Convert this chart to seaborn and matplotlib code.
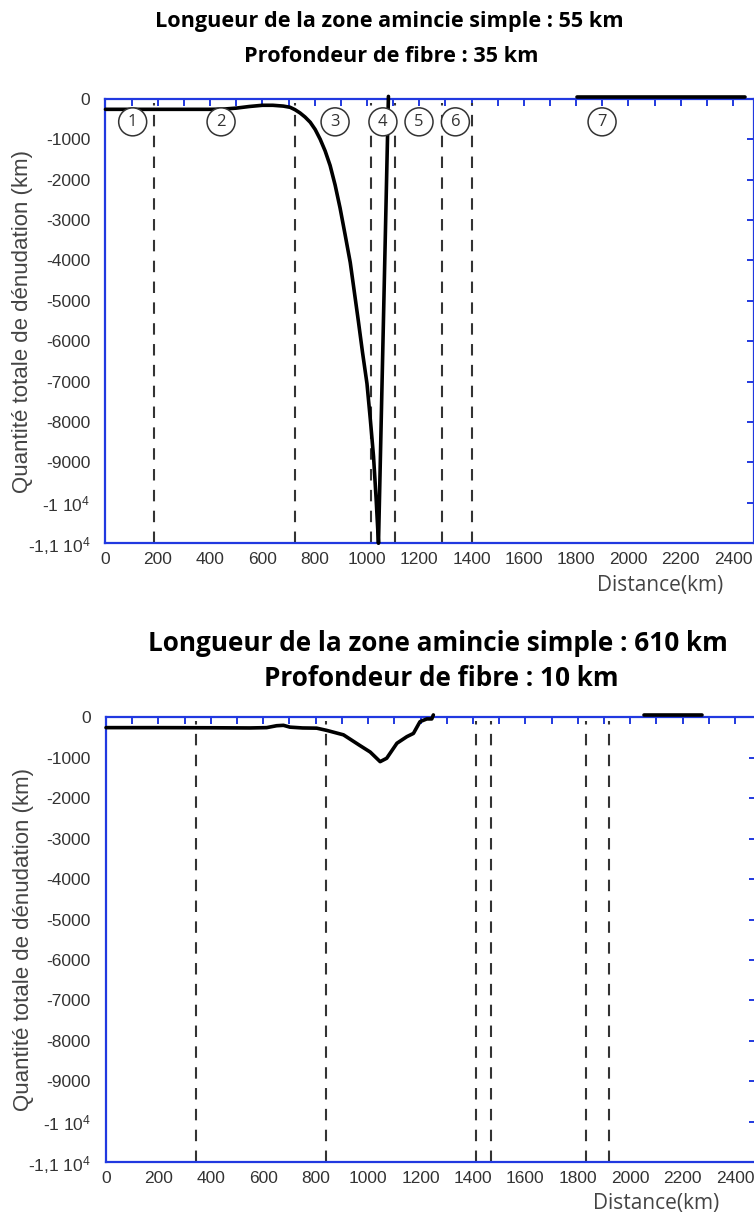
import matplotlib
matplotlib.use("Agg")
import matplotlib.pyplot as plt
import seaborn as sns

# --- profile 1 : 55 km thinning zone, fibre depth 35 km ---
dist_a = [0, 100, 200, 300, 400, 450, 500, 550, 600, 640, 680, 706, 725, 744,
          763, 783, 802, 821, 840, 859, 878, 897, 916, 936, 951, 967, 983,
          1000, 1013, 1025, 1035, 1044, 1082]
denud_a = [-260, -260, -260, -260, -260, -255, -230, -190, -160, -160, -180,
           -210, -270, -350, -450, -580, -760, -1000, -1290, -1650, -2130,
           -2700, -3350, -4050, -4750, -5500, -6280, -7050, -7950, -8850,
           -9900, -11000, 60]
dist_a_far = [1804, 2446]
denud_a_far = [50, 50]
bounds_a = [187, 725, 1015, 1108, 1287, 1400]
zone_x = [104, 442, 878, 1061, 1199, 1338, 1899]
zone_lab = ["1", "2", "3", "4", "5", "6", "7"]

# --- profile 2 : 610 km thinning zone, fibre depth 10 km ---
dist_b = [0, 200, 400, 550, 613, 651, 677, 702, 750, 804, 842, 906, 969, 1008,
          1046, 1071, 1110, 1148, 1173, 1198, 1224, 1243, 1249]
denud_b = [-257, -257, -260, -265, -257, -210, -200, -245, -265, -270, -325,
           -435, -700, -860, -1098, -1014, -643, -480, -400, -110, -42, -42, 57]
dist_b_far = [2051, 2274]
denud_b_far = [50, 50]
bounds_b = [342, 838, 1412, 1470, 1830, 1920]

titles_a = ["Longueur de la zone amincie simple : 55 km", "Profondeur de fibre : 35 km"]
titles_b = ["Longueur de la zone amincie simple : 610 km", "Profondeur de fibre : 10 km"]

yticks = [0, -1000, -2000, -3000, -4000, -5000, -6000, -7000, -8000, -9000, -10000, -11000]
ylabels = ["0", "-1000", "-2000", "-3000", "-4000", "-5000", "-6000", "-7000",
           "-8000", "-9000", "-1 10$^{4}$", "-1,1 10$^{4}$"]
xticks = list(range(0, 2500, 100))
xlabels = [str(v) if v % 200 == 0 else "" for v in xticks]

sns.set_theme(style="white")
plt.rcParams["font.family"] = ["Liberation Sans", "DejaVu Sans"]
plt.rcParams["mathtext.fontset"] = "custom"
plt.rcParams["mathtext.rm"] = "Liberation Sans"
plt.rcParams["mathtext.default"] = "regular"

BLUE = "#2139e0"
INK = "#333333"

fig = plt.figure(figsize=(7.54, 12.14), dpi=100)
ax_a = fig.add_axes([0.1399, 0.5525, 0.8601, 0.3661])
ax_b = fig.add_axes([0.1406, 0.0426, 0.8620, 0.3666])


def style_axes(ax, xlab_pos):
    ax.set_xlim(0, 2480)
    ax.set_ylim(-11000, 0)
    ax.set_xticks(xticks)
    ax.set_xticklabels(xlabels)
    ax.set_yticks(yticks)
    ax.set_yticklabels(ylabels)
    for s in ax.spines.values():
        s.set_color(BLUE)
        s.set_linewidth(1.6)
    ax.tick_params(axis="both", which="major", direction="in", length=5,
                   width=1.4, color=BLUE, top=True, right=True,
                   labelsize=12.5, labelcolor=INK)
    ax.tick_params(axis="y", pad=11)
    ax.tick_params(axis="x", pad=6)
    ax.set_ylabel("Quantité totale de dénudation (km)", fontsize=16, color="#444444")
    ax.yaxis.set_label_coords(-0.111, 0.5)
    ax.set_xlabel("Distance(km)", fontsize=15, color="#444444",
                  family=["Open Sans", "DejaVu Sans"])
    ax.xaxis.set_label_coords(*xlab_pos)
    ax.grid(False)


def draw_profile(ax, x, y, xf, yf, bounds):
    for b in bounds:
        ax.vlines(b, -11000, -100, colors=INK, linewidth=1.5,
                  linestyles=(0, (5.5, 4.5)), zorder=2)
    sns.lineplot(x=x, y=y, ax=ax, color="black", linewidth=2.6,
                 sort=False, estimator=None, zorder=4)
    sns.lineplot(x=xf, y=yf, ax=ax, color="black", linewidth=2.6,
                 sort=False, estimator=None, zorder=4)
    for ln in ax.lines:
        ln.set_clip_on(False)
        ln.set_solid_joinstyle("round")


draw_profile(ax_a, dist_a, denud_a, dist_a_far, denud_a_far, bounds_a)
draw_profile(ax_b, dist_b, denud_b, dist_b_far, denud_b_far, bounds_b)
style_axes(ax_a, (0.856, -0.071))
style_axes(ax_b, (0.846, -0.070))

# zone numbers in circles
for zx, zl in zip(zone_x, zone_lab):
    ax_a.text(zx, -570, zl, ha="center", va="center", fontsize=12,
              color=INK, family=["Open Sans", "DejaVu Sans"], zorder=5,
              bbox=dict(boxstyle="circle,pad=0.36", facecolor="white",
                        edgecolor=INK, linewidth=1.1))

title_font = ["Open Sans", "DejaVu Sans"]
fig.text(389 / 754, 1 - 22 / 1214, titles_a[0], ha="center", va="center",
         fontsize=15.6, fontweight="bold", family=title_font, color="black")
fig.text(391 / 754, 1 - 57 / 1214, titles_a[1], ha="center", va="center",
         fontsize=15.6, fontweight="bold", family=title_font, color="black")
fig.text(438 / 754, 1 - 643 / 1214, titles_b[0], ha="center", va="center",
         fontsize=18.8, fontweight="bold", family=title_font, color="black")
fig.text(441 / 754, 1 - 678 / 1214, titles_b[1], ha="center", va="center",
         fontsize=18.8, fontweight="bold", family=title_font, color="black")

fig.savefig("out.png", dpi=100)
